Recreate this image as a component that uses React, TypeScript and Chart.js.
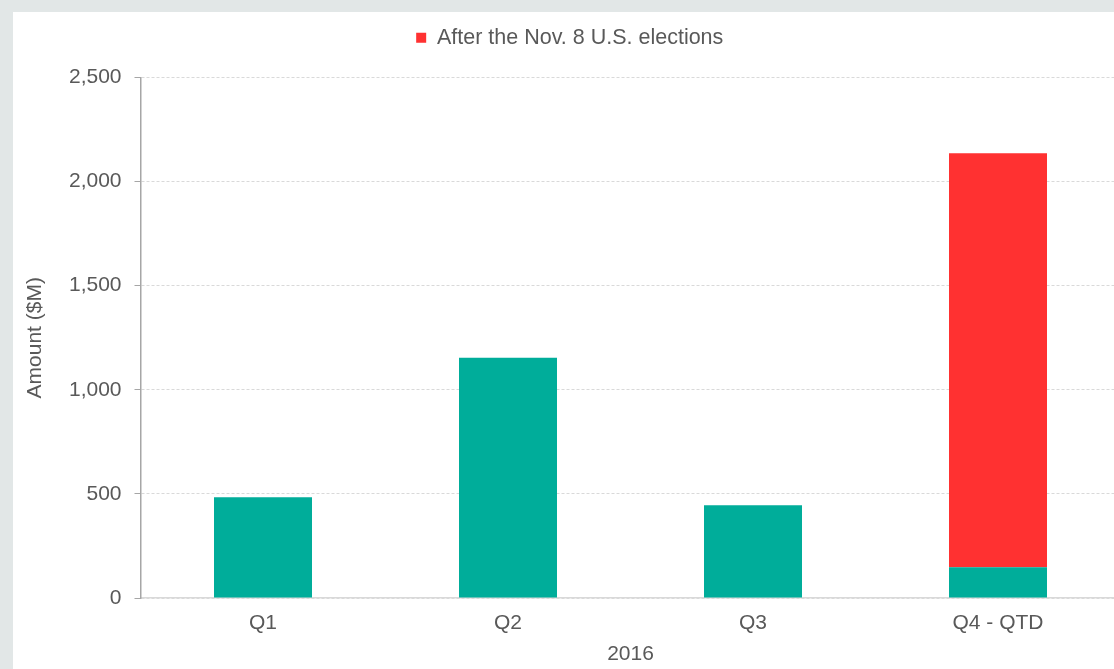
import React, { useEffect, useRef } from "react";
import { Chart, registerables } from "chart.js";

Chart.register(...registerables);

const categories = ["Q1", "Q2", "Q3", "Q4 - QTD"];
const beforeElectionValues = [484, 1154, 445, 148];
const afterElectionValues = [0, 0, 0, 1988];
const beforeLabel = "Before the Nov. 8 U.S. elections";
const afterLabel = "After the Nov. 8 U.S. elections";
const yAxisTitle = "Amount ($M)";
const xAxisTitle = "2016";
const yMin = 0;
const yMax = 2500;
const yStep = 500;

const TEXT = "#595959";
const FONT = "'Liberation Sans', Arial, sans-serif";

const legendMargin = {
  id: "legendMargin",
  beforeInit(chart: any) {
    const lg: any = chart.legend;
    if (!lg) return;
    const orig = lg.fit;
    lg.fit = function () {
      orig.call(this);
      this.height += 19;
    };
  },
};

export default function App() {
  const ref = useRef<HTMLCanvasElement | null>(null);
  useEffect(() => {
    document.body.style.margin = "0";
    const ctx = ref.current!;
    const chart = new Chart(ctx, {
      type: "bar",
      data: {
        labels: categories,
        datasets: [
          {
            label: beforeLabel,
            data: beforeElectionValues,
            backgroundColor: "#00ad9a",
            barPercentage: 0.4,
            categoryPercentage: 1,
          },
          {
            label: afterLabel,
            data: afterElectionValues,
            backgroundColor: "#ff3131",
            barPercentage: 0.4,
            categoryPercentage: 1,
          },
        ],
      },
      plugins: [legendMargin],
      options: {
        responsive: false,
        animation: false,
        layout: { padding: { left: 6, right: 22.5, top: 5, bottom: 0 } },
        plugins: {
          tooltip: { enabled: false },
          legend: {
            position: "top",
            labels: {
              filter: (item: any) => item.text === afterLabel,
              boxWidth: 10,
              boxHeight: 10,
              color: TEXT,
              font: { family: FONT, size: 21.5 },
              padding: 10,
            },
          },
        },
        scales: {
          x: {
            stacked: true,
            grid: { display: false, drawTicks: false },
            border: { display: true, color: "#d9d9d9", width: 1.5 },
            ticks: { color: TEXT, font: { family: FONT, size: 21 }, padding: 13 },
            title: {
              display: true,
              text: xAxisTitle,
              color: TEXT,
              font: { family: FONT, size: 21 },
              padding: { top: 0, bottom: 2 },
            },
            afterFit: (s: any) => {
              s.height = 71;
            },
          },
          y: {
            stacked: true,
            min: yMin,
            max: yMax,
            grid: {
              color: "#d9d9d9",
              lineWidth: 1,
              tickLength: 6,
              tickColor: "#a6a6a6",
              tickBorderDash: [],
            },
            border: { display: true, color: "#a6a6a6", width: 1.5, dash: [3, 2] },
            ticks: {
              stepSize: yStep,
              color: TEXT,
              font: { family: FONT, size: 21 },
              padding: 13,
              callback: (v: any) => Number(v).toLocaleString("en-US"),
            },
            title: {
              display: true,
              text: yAxisTitle,
              color: TEXT,
              font: { family: FONT, size: 21 },
            },
            afterFit: (s: any) => {
              s.width = 121.5;
            },
          },
        },
      },
    });
    return () => chart.destroy();
  }, []);

  return (
    <div
      style={{
        position: "fixed",
        left: 0,
        top: 0,
        width: 1114,
        height: 669,
        overflow: "hidden",
        background: "#e2e7e7",
      }}
    >
      <div
        style={{
          position: "absolute",
          left: 13,
          top: 12,
          width: 1130,
          height: 657,
          background: "#ffffff",
        }}
      >
        <canvas ref={ref} width={1130} height={657} style={{ display: "block" }} />
      </div>
    </div>
  );
}
